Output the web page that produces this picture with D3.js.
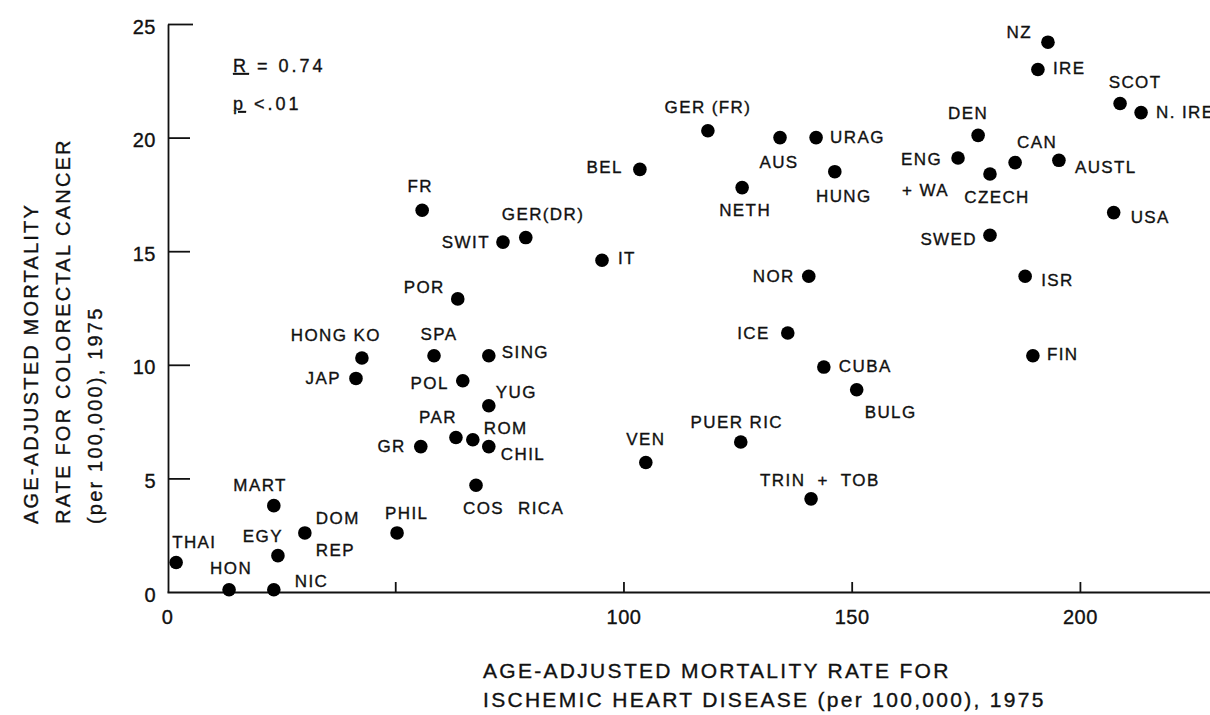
<!DOCTYPE html>
<html>
<head>
<meta charset="utf-8">
<script src="https://cdn.jsdelivr.net/npm/d3@7"></script>
<style>
  html, body { margin: 0; padding: 0; background: #fff; }
  svg { display: block; font-family: "Liberation Sans", Arial, sans-serif; }
  svg text { stroke: #111; stroke-width: 0.35px; }
  .lbl { font-size: 17px; letter-spacing: 1.4px; fill: #111; }
  .tick text { font-size: 20px; letter-spacing: 0.5px; fill: #111; font-family: "Liberation Sans", Arial, sans-serif; }
  .title { font-size: 20px; letter-spacing: 2.2px; fill: #111; }
</style>
</head>
<body>
<div id="chart"></div>
<script>
// colorectal cancer vs ischemic heart disease mortality, 1975

var countries = ["THAI","HON","NIC","EGY","MART","DOM REP","PHIL","GR","PAR","ROM",
   "CHIL","YUG","COS RICA","JAP","HONG KO","SPA","SING","POL","POR","FR",
   "SWIT","GER(DR)","IT","BEL","VEN","PUER RIC","TRIN + TOB","ICE","NOR","CUBA",
   "BULG","GER (FR)","AUS","URAG","NETH","HUNG","DEN","ENG + WA","CZECH","CAN",
   "AUSTL","NZ","IRE","SCOT","N. IRE","USA","SWED","ISR","FIN"];
var heartRate = [2.0,13.6,23.4,24.3,23.4,30.2,50.4,55.6,63.3,67.0,
   70.5,70.5,67.7,41.4,42.7,58.5,70.5,64.8,63.7,55.9,
   73.6,78.6,95.3,103.6,104.9,125.7,141.1,136.0,140.6,143.9,
   151.1,118.5,134.3,142.2,126.0,146.3,177.7,173.3,180.3,185.8,
   195.4,193.0,190.8,208.8,213.4,207.4,180.3,188.0,189.7];
var colorectalRate = [1.3,0.1,0.1,1.6,3.8,2.6,2.6,6.4,6.8,6.7,
   6.4,8.2,4.7,9.4,10.3,10.4,10.4,9.3,12.9,16.8,
   15.4,15.6,14.6,18.6,5.7,6.6,4.1,11.4,13.9,9.9,
   8.9,20.3,20.0,20.0,17.8,18.5,20.1,19.1,18.4,18.9,
   19.0,24.2,23.0,21.5,21.1,16.7,15.7,13.9,10.4];
var xTicks = [0,50,100,150,200];
var xTickLabels = ["0","","100","150","200"];
var yTicks = [0,5,10,15,20,25];
var xTitle = ["AGE-ADJUSTED MORTALITY RATE FOR","ISCHEMIC HEART DISEASE (per 100,000), 1975"];
var yTitle = ["AGE-ADJUSTED MORTALITY","RATE FOR COLORECTAL CANCER","(per 100,000), 1975"];

// label placement next to each dot: [text, anchor, dx, dy]
var labelPos = {
   "THAI":[["THAI","start",-4,-14]], "HON":[["HON","middle",2,-16]], "NIC":[["NIC","start",21,-3]],
   "EGY":[["EGY","end",5,-14]], "MART":[["MART","end",13,-15]],
   "DOM REP":[["DOM","start",11,-9],["REP","start",11,23]],
   "PHIL":[["PHIL","start",-12,-14]], "GR":[["GR","end",-15,5]], "PAR":[["PAR","end",1,-15]],
   "ROM":[["ROM","start",11,-6]], "CHIL":[["CHIL","start",12,13]], "YUG":[["YUG","start",7,-8]],
   "COS RICA":[["COS","start",-13,29],["RICA","start",42,29]],
   "JAP":[["JAP","end",-15,6]], "HONG KO":[["HONG KO","end",19,-17]], "SPA":[["SPA","middle",5,-16]],
   "SING":[["SING","start",13,2]], "POL":[["POL","end",-14,8]], "POR":[["POR","end",-13,-6]],
   "FR":[["FR","middle",-2,-18]], "SWIT":[["SWIT","end",-13,6]], "GER(DR)":[["GER(DR)","start",-24,-18]],
   "IT":[["IT","start",16,4]], "BEL":[["BEL","end",-17,4]], "VEN":[["VEN","middle",0,-17]],
   "PUER RIC":[["PUER RIC","middle",-4,-14]], "TRIN + TOB":[["TRIN  +  TOB","start",-51,-13]],
   "ICE":[["ICE","end",-18,6]], "NOR":[["NOR","end",-14,6]], "CUBA":[["CUBA","start",15,5]],
   "BULG":[["BULG","start",8,28]], "GER (FR)":[["GER (FR)","middle",0,-18]],
   "AUS":[["AUS","middle",-1,30]], "URAG":[["URAG","start",14,5]], "NETH":[["NETH","middle",3,28]],
   "HUNG":[["HUNG","middle",9,30]], "DEN":[["DEN","middle",-10,-16]],
   "ENG + WA":[["ENG","end",-16,7],["+ WA","start",-56,38]],
   "CZECH":[["CZECH","middle",7,29]], "CAN":[["CAN","middle",22,-15]], "AUSTL":[["AUSTL","start",16,13]],
   "NZ":[["NZ","end",-16,-4]], "IRE":[["IRE","start",15,5]], "SCOT":[["SCOT","middle",15,-16]],
   "N. IRE":[["N. IRE","start",15,5]], "USA":[["USA","start",17,10]], "SWED":[["SWED","end",-13,10]],
   "ISR":[["ISR","start",16,10]], "FIN":[["FIN","start",14,4]]
};

var width = 1210, height = 715;
var svg = d3.select("#chart").append("svg")
   .attr("width",width).attr("height",height);

var xScale = d3.scaleLinear().domain([0,228.5]).range([167,1210]);
var yScale = d3.scaleLinear().domain([0,25]).range([592,24]);

// x axis, ticks point up into the plot
var xAxis = d3.axisBottom(xScale).tickValues(xTicks)
   .tickFormat(function(d,i){ return xTickLabels[i]; })
   .tickSizeInner(-10).tickSizeOuter(0).tickPadding(28);
var gx = svg.append("g").attr("class","x-axis")
   .attr("transform","translate(0,"+yScale(0)+")")
   .call(xAxis);
gx.selectAll(".tick").filter(function(d){ return d === 0; }).select("line").remove();

// y axis, ticks point right
var yAxis = d3.axisLeft(yScale).tickValues(yTicks)
   .tickSizeInner(-22).tickSizeOuter(0).tickPadding(12);
var gy = svg.append("g").attr("class","y-axis")
   .attr("transform","translate(168,0)")
   .call(yAxis);
gy.selectAll(".tick").filter(function(d){ return d === 0; }).select("line").remove();
gy.selectAll(".tick").filter(function(d){ return d === 25; }).select("line").attr("x2",25);

svg.selectAll(".domain, .tick line").attr("stroke","#111").attr("stroke-width",1.8);
gx.selectAll(".tick text").attr("dy","0.2em");
gy.selectAll(".tick text").attr("dy","0.45em");

// stats
var stats = svg.append("g").attr("class","lbl").style("font-size","18px").style("letter-spacing","3px");
var t1 = stats.append("text").attr("x",233).attr("y",72);
t1.append("tspan").style("text-decoration","underline").text("R");
t1.append("tspan").text(" = 0.74");
var t2 = stats.append("text").attr("x",233).attr("y",110);
t2.append("tspan").style("text-decoration","underline").text("p");
t2.append("tspan").text(" <.01");

// points
svg.append("g").selectAll("circle").data(countries).enter()
   .append("circle")
   .attr("cx",function(d,i){ return xScale(heartRate[i]); })
   .attr("cy",function(d,i){ return yScale(colorectalRate[i]); })
   .attr("r",6.8)
   .attr("fill","#000");

// point labels
var gl = svg.append("g").attr("class","labels");
countries.forEach(function(c,i){
   var cx = xScale(heartRate[i]), cy = yScale(colorectalRate[i]);
   labelPos[c].forEach(function(p){
      gl.append("text").attr("class","lbl")
         .attr("x",cx+p[2]).attr("y",cy+p[3])
         .attr("text-anchor",p[1])
         .style("white-space","pre")
         .text(p[0]);
   });
});

// axis titles
svg.append("g").selectAll("text").data(xTitle).enter()
   .append("text").attr("class","title")
   .style("font-size","21px").style("letter-spacing","2.3px")
   .attr("x",483).attr("y",function(d,i){ return 678+i*29; })
   .text(function(d){ return d; });
svg.append("g").selectAll("text").data(yTitle).enter()
   .append("text").attr("class","title")
   .attr("transform",function(d,i){ return "translate("+(38+i*32)+",524) rotate(-90)"; })
   .text(function(d){ return d; });
</script>
</body>
</html>
